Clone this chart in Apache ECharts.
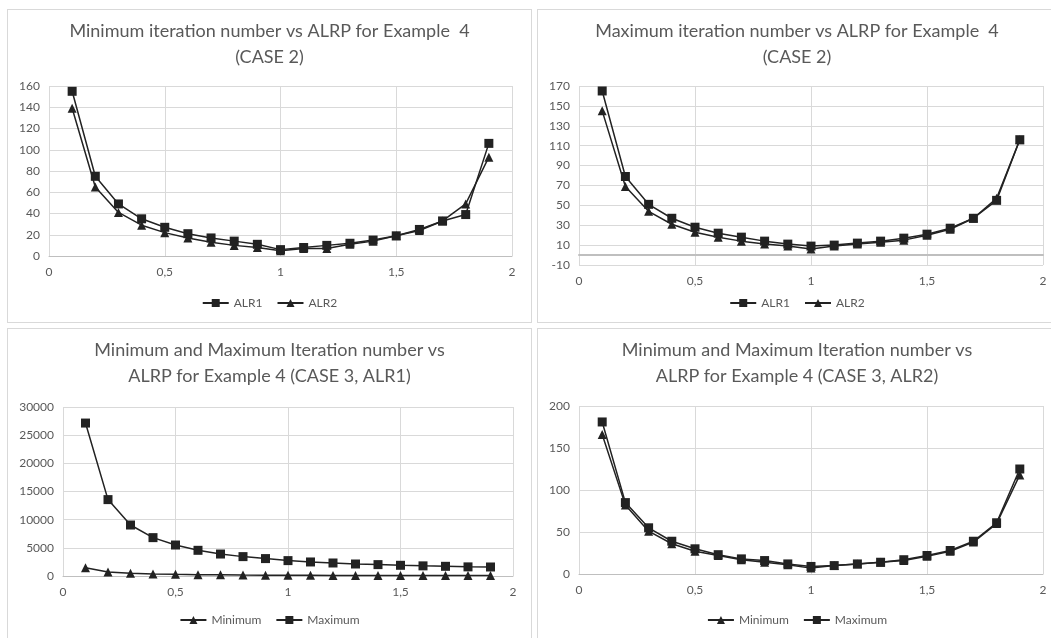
<!DOCTYPE html>
<html>
<head>
<meta charset="utf-8">
<script src="https://cdn.jsdelivr.net/npm/echarts@6/dist/echarts.min.js"></script>
<style>
html, body {
  margin: 0;
  padding: 0;
  background: #fff;
  width: 1051px;
  height: 638px;
  overflow: hidden;
}
.panel {
  position: absolute;
  box-sizing: border-box;
  border: 1px solid #d9d9d9;
  background: #fff;
}
.chart {
  width: 100%;
  height: 100%;
}
</style>
</head>
<body>
<div class="panel" style="left:7px;top:9px;width:525px;height:314px"><div id="c1" class="chart"></div></div>
<div class="panel" style="left:537px;top:9px;width:520px;height:314px"><div id="c2" class="chart"></div></div>
<div class="panel" style="left:7px;top:328px;width:525px;height:320px"><div id="c3" class="chart"></div></div>
<div class="panel" style="left:537px;top:328px;width:520px;height:320px"><div id="c4" class="chart"></div></div>
<script>
// ALRP values on the x axis
const alrp = [0.1, 0.2, 0.3, 0.4, 0.5, 0.6, 0.7, 0.8, 0.9, 1.0, 1.1, 1.2, 1.3, 1.4, 1.5, 1.6, 1.7, 1.8, 1.9];

// CASE 2, minimum iteration number
const case2MinAlr1 = [155, 75, 49, 35, 27, 21, 17, 14, 11, 6, 8, 10, 12, 15, 19, 25, 33, 39, 106];
const case2MinAlr2 = [139, 65, 41, 29, 22, 17, 13, 10, 8, 5, 7, 7, 11, 14, 19, 24, 33, 49, 93];

// CASE 2, maximum iteration number
const case2MaxAlr1 = [165, 79, 51, 37, 28, 22, 18, 14, 11, 9, 10, 12, 14, 17, 21, 27, 37, 55, 116];
const case2MaxAlr2 = [145, 69, 44, 31, 23, 18, 14, 11, 9, 6, 9, 11, 13, 15, 20, 26, 37, 57, 116];

// CASE 3, ALR1
const case3Alr1Min = [1450, 720, 480, 360, 290, 240, 200, 170, 150, 130, 120, 110, 100, 95, 90, 85, 80, 75, 70];
const case3Alr1Max = [27150, 13560, 9050, 6810, 5500, 4560, 3900, 3440, 3090, 2730, 2490, 2310, 2130, 2020, 1900, 1800, 1720, 1620, 1600];

// CASE 3, ALR2
const case3Alr2Min = [166, 82, 51, 36, 27, 22, 17, 14, 11, 7, 10, 12, 14, 16, 21, 27, 38, 60, 118];
const case3Alr2Max = [181, 85, 55, 39, 30, 23, 18, 16, 12, 9, 10, 12, 14, 17, 22, 28, 39, 61, 125];

const xTicks = { min: 0, max: 2, interval: 0.5 };

const FONT = 'Lato, "Open Sans", sans-serif';
const TEXT = '#595959';
const GRID_LINE = '#d9d9d9';
const INK = '#222222';

function lineSeries(name, values, symbol, size) {
  return {
    name: name,
    type: 'line',
    data: alrp.map((x, i) => [x, values[i]]),
    symbol: symbol,
    symbolSize: size,
    lineStyle: { color: INK, width: 1.5 },
    itemStyle: { color: INK },
    z: symbol === 'rect' ? 3 : 2,
  };
}

function buildOption(cfg) {
  return {
    animation: false,
    textStyle: { fontFamily: FONT },
    title: {
      text: cfg.title,
      left: 'center',
      top: 3,
      textStyle: {
        fontFamily: FONT,
        fontSize: 18,
        fontWeight: 'normal',
        color: TEXT,
        lineHeight: 26,
      },
    },
    legend: {
      bottom: cfg.legendBottom,
      left: 'center',
      itemWidth: 26,
      itemHeight: 10,
      itemGap: 14,
      textStyle: { fontFamily: FONT, fontSize: 12, color: TEXT },
      data: cfg.legend,
    },
    grid: cfg.grid,
    xAxis: {
      type: 'value',
      min: xTicks.min,
      max: xTicks.max,
      interval: xTicks.interval,
      axisLine: { lineStyle: { color: '#bfbfbf', width: cfg.axisWidth || 1 } },
      axisTick: { show: false },
      axisLabel: {
        color: TEXT,
        fontSize: 12,
        margin: 10,
        formatter: (v) => String(v).replace('.', ','),
      },
      splitLine: { show: true, lineStyle: { color: GRID_LINE } },
    },
    yAxis: {
      type: 'value',
      min: cfg.yMin,
      max: cfg.yMax,
      interval: cfg.yInterval,
      axisLine: { show: false },
      axisTick: { show: false },
      axisLabel: { color: TEXT, fontSize: 12, margin: 9, formatter: (v) => String(v) },
      splitLine: { lineStyle: { color: GRID_LINE } },
    },
    series: cfg.series,
  };
}

const charts = [
  {
    id: 'c1',
    title: 'Minimum iteration number vs ALRP for Example  4\n(CASE 2)',
    legend: ['ALR1', 'ALR2'],
    legendBottom: 8,
    grid: { left: 41, top: 76, width: 463, height: 170 },
    yMin: 0, yMax: 160, yInterval: 20,
    series: [
      lineSeries('ALR1', case2MinAlr1, 'rect', 9),
      lineSeries('ALR2', case2MinAlr2, 'triangle', 9),
    ],
  },
  {
    id: 'c2',
    title: 'Maximum iteration number vs ALRP for Example  4\n(CASE 2)',
    legend: ['ALR1', 'ALR2'],
    legendBottom: 8,
    grid: { left: 41, top: 76, width: 464, height: 179 },
    yMin: -10, yMax: 170, yInterval: 20,
    axisWidth: 2,
    series: [
      lineSeries('ALR1', case2MaxAlr1, 'rect', 9),
      lineSeries('ALR2', case2MaxAlr2, 'triangle', 9),
    ],
  },
  {
    id: 'c3',
    title: 'Minimum and Maximum Iteration number vs\nALRP for Example 4 (CASE 3, ALR1)',
    legend: ['Minimum', 'Maximum'],
    legendBottom: 16,
    grid: { left: 55, top: 78, width: 450, height: 169 },
    yMin: 0, yMax: 30000, yInterval: 5000,
    series: [
      lineSeries('Minimum', case3Alr1Min, 'triangle', 9),
      lineSeries('Maximum', case3Alr1Max, 'rect', 9),
    ],
  },
  {
    id: 'c4',
    title: 'Minimum and Maximum Iteration number vs\nALRP for Example 4 (CASE 3, ALR2)',
    legend: ['Minimum', 'Maximum'],
    legendBottom: 16,
    grid: { left: 41, top: 77, width: 464, height: 168 },
    yMin: 0, yMax: 200, yInterval: 50,
    series: [
      lineSeries('Minimum', case3Alr2Min, 'triangle', 9),
      lineSeries('Maximum', case3Alr2Max, 'rect', 9),
    ],
  },
];

charts.forEach((cfg) => {
  const chart = echarts.init(document.getElementById(cfg.id), null, { renderer: 'canvas' });
  chart.setOption(buildOption(cfg));
});
</script>
</body>
</html>
